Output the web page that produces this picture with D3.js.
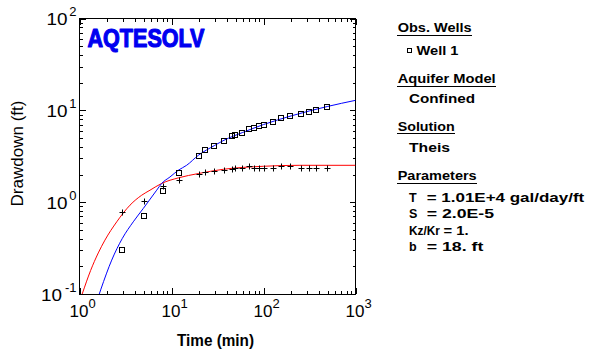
<!DOCTYPE html>
<html><head><meta charset="utf-8">
<script src="https://cdn.jsdelivr.net/npm/d3@7"></script>
<style>body{margin:0;background:#fff}svg{display:block}</style>
</head><body>
<svg id="c" width="589" height="350"></svg>
<script>
// ---- data ----
const obsTime = [2.9, 5, 8, 12, 20, 23.3, 29.2, 37.2, 45.8, 49.4, 58.8, 68.7, 78.8, 89.3, 100, 128, 156, 195, 258, 315, 375, 493];
const well1Drawdown = [0.30, 0.705, 1.31, 2.10, 3.20, 3.69, 4.13, 4.66, 5.19, 5.35, 5.72, 6.19, 6.41, 6.70, 6.99, 7.54, 8.33, 8.57, 9.23, 9.70, 10.2, 11.0];
const plusDrawdown = [0.79, 1.04, 1.49, 1.76, 2.04, 2.11, 2.20, 2.22, 2.32, 2.35, 2.34, 2.49, 2.34, 2.34, 2.38, 2.38, 2.49, 2.46, 2.38, 2.38, 2.38, 2.38];
const blueCurveTime = [1.64, 1.71, 2.24, 2.92, 3.84, 4.94, 6.9, 7.82, 9.62, 11.9, 14.6, 19.6, 29.2, 37.2, 58.8, 100, 200, 493, 1000];
const blueCurveDrawdown = [0.1, 0.113, 0.234, 0.403, 0.611, 0.855, 1.35, 1.6, 1.88, 2.23, 2.52, 3.24, 4.13, 4.72, 5.72, 7.0, 8.7, 11.0, 12.85];
const redCurveTime = [1.07, 1.32, 1.6, 1.89, 2.54, 3.54, 4.74, 5.84, 7.82, 11.9, 19.6, 36.6, 99.6, 249, 1000];
const redCurveDrawdown = [0.1, 0.18, 0.28, 0.386, 0.611, 0.928, 1.19, 1.35, 1.6, 1.84, 2.05, 2.28, 2.46, 2.52, 2.52];
const xDecades = [0, 1, 2, 3];
const yDecades = [-1, 0, 1, 2];
const legendRows = [
  {text: "Obs. Wells", x: 397.7, y: 32, w: 74, head: true},
  {text: "Well 1", x: 416.5, y: 55, w: 42, marker: true},
  {text: "Aquifer Model", x: 397.7, y: 83, w: 98, head: true},
  {text: "Confined", x: 409, y: 103, w: 66},
  {text: "Solution", x: 397.7, y: 130.5, w: 57, head: true},
  {text: "Theis", x: 409, y: 151.5, w: 41},
  {text: "Parameters", x: 397.7, y: 180, w: 79, head: true}
];
const paramNames = ["T", "S", "Kz/Kr", "b"];
const paramNameW = [0, 0, 31, 0];
const paramValues = ["= 1.01E+4 gal/day/ft", "= 2.0E-5", "= 1.", "= 18. ft"];
const paramValueX = [426.7, 426.7, 443.5, 426.7];
const paramValueW = [157.6, 67.3, 25, 56.7];
const paramY = [201.5, 218.3, 235, 251];

// ---- chart ----
const svg = d3.select("#c");
svg.append("rect").attr("width", 589).attr("height", 350).attr("fill", "#fff");
const L = 79.5, R = 355.5, T = 18.5, B = 294;
const x = d3.scaleLog().domain([1, 1000]).range([L, R]);
const y = d3.scaleLog().domain([0.1, 100]).range([B, T]);
const font = "'Liberation Sans', Arial, sans-serif";

svg.append("defs").append("clipPath").attr("id", "clip")
  .append("rect").attr("x", L).attr("y", T).attr("width", R - L).attr("height", B - T);

// logo
svg.append("text").attr("x", 87.5).attr("y", 47).attr("font-family", font)
  .attr("font-weight", "bold").attr("font-size", 26).attr("fill", "#0000f0")
  .attr("stroke", "#0000f0").attr("stroke-width", 1.2).attr("stroke-linejoin", "round")
  .attr("textLength", 117).attr("lengthAdjust", "spacingAndGlyphs").text("AQTESOLV");

// ticks
const xTicks = [], yTicks = [];
for (let e = 0; e < 3; e++) for (let m = 1; m <= 9; m++) xTicks.push(m * Math.pow(10, e));
xTicks.push(1000);
for (let e = -1; e < 2; e++) for (let m = 1; m <= 9; m++) yTicks.push(m * Math.pow(10, e));
yTicks.push(100);
const isMajor = v => Math.abs(Math.log10(v) - Math.round(Math.log10(v))) < 1e-9;

function styleAxis(g, attr, sign) {
  g.select(".domain").remove();
  g.selectAll(".tick text").remove();
  g.selectAll(".tick line").attr(attr, d => sign * (isMajor(d) ? 6 : 3))
    .attr("stroke", "#000").attr("shape-rendering", "crispEdges");
}
svg.append("g").attr("transform", `translate(0,${B})`)
  .call(d3.axisBottom(x).tickValues(xTicks)).call(g => styleAxis(g, "y2", -1));
svg.append("g").attr("transform", `translate(0,${T})`)
  .call(d3.axisTop(x).tickValues(xTicks)).call(g => styleAxis(g, "y2", 1));
svg.append("g").attr("transform", `translate(${L},0)`)
  .call(d3.axisLeft(y).tickValues(yTicks)).call(g => styleAxis(g, "x2", 1));
svg.append("g").attr("transform", `translate(${R},0)`)
  .call(d3.axisRight(y).tickValues(yTicks)).call(g => styleAxis(g, "x2", -1));

svg.append("rect").attr("x", L).attr("y", T).attr("width", R - L).attr("height", B - T)
  .attr("fill", "none").attr("stroke", "#000").attr("shape-rendering", "crispEdges");

// tick labels
xDecades.forEach(e => {
  const t = svg.append("text").attr("font-family", font).attr("font-size", 17)
    .attr("x", x(Math.pow(10, e)) - 10).attr("y", 317);
  t.append("tspan").text("10");
  t.append("tspan").attr("font-size", 13).attr("dy", -9).text(String(e));
});
yDecades.forEach(e => {
  const expW = e < 0 ? 13 : 7.5;
  const yy = y(Math.pow(10, e)) + 6.5;
  svg.append("text").attr("font-family", font).attr("font-size", 17)
    .attr("text-anchor", "end").attr("x", 76 - expW - 1).attr("y", yy)
    .attr("textLength", 21).attr("lengthAdjust", "spacingAndGlyphs").text("10");
  svg.append("text").attr("font-family", font).attr("font-size", 13)
    .attr("text-anchor", "end").attr("x", 76.5).attr("y", yy - 9).text(String(e));
});

// axis titles
svg.append("text").attr("font-family", font).attr("font-size", 16).attr("font-weight", "bold")
  .attr("x", 215.5).attr("y", 346).attr("text-anchor", "middle")
  .attr("textLength", 77).attr("lengthAdjust", "spacingAndGlyphs").text("Time (min)");
svg.append("text").attr("font-family", font).attr("font-size", 17)
  .attr("transform", "translate(23,153.5) rotate(-90)").attr("text-anchor", "middle")
  .attr("textLength", 106).attr("lengthAdjust", "spacingAndGlyphs").text("Drawdown (ft)");

// curves
const line = d3.line().x(d => x(d[0])).y(d => y(d[1])).curve(d3.curveMonotoneX);
const plot = svg.append("g").attr("clip-path", "url(#clip)");
plot.append("path").datum(redCurveTime.map((t, i) => [t, redCurveDrawdown[i]]))
  .attr("d", line).attr("fill", "none").attr("stroke", "#ff0000").attr("stroke-width", 1);
plot.append("path").datum(blueCurveTime.map((t, i) => [t, blueCurveDrawdown[i]]))
  .attr("d", line).attr("fill", "none").attr("stroke", "#0000ff").attr("stroke-width", 1);

// markers
plot.selectAll(".sq").data(obsTime.map((t, i) => [t, well1Drawdown[i]])).join("rect")
  .attr("x", d => Math.round(x(d[0])) - 2.5).attr("y", d => Math.round(y(d[1])) - 2.5)
  .attr("width", 5).attr("height", 5).attr("fill", "none").attr("stroke", "#000");
plot.selectAll(".pl").data(obsTime.map((t, i) => [t, plusDrawdown[i]])).join("path")
  .attr("d", d => { const cx = Math.round(x(d[0])) + 0.5, cy = Math.round(y(d[1])) + 0.5;
    return `M${cx - 3},${cy}H${cx + 3}M${cx},${cy - 3}V${cy + 3}`; })
  .attr("stroke", "#000").attr("fill", "none");

// legend
legendRows.forEach(r => {
  svg.append("text").attr("font-family", font).attr("font-size", 12).attr("font-weight", "bold")
    .attr("x", r.x).attr("y", r.y).attr("textLength", r.w).attr("lengthAdjust", "spacingAndGlyphs").text(r.text);
  if (r.head) svg.append("line").attr("x1", r.x - 0.5).attr("x2", r.x + r.w + 0.5)
    .attr("y1", r.y + 3).attr("y2", r.y + 3).attr("stroke", "#000").attr("shape-rendering", "crispEdges");
  if (r.marker) svg.append("rect").attr("x", 407.5).attr("y", r.y - 6.5).attr("width", 4).attr("height", 4)
    .attr("fill", "none").attr("stroke", "#000");
});
paramNames.forEach((n, i) => {
  const t = svg.append("text").attr("font-family", font).attr("font-size", 12.5).attr("font-weight", "bold")
    .attr("x", 409).attr("y", paramY[i]).text(n);
  if (paramNameW[i]) t.attr("textLength", paramNameW[i]).attr("lengthAdjust", "spacingAndGlyphs");
  svg.append("text").attr("font-family", font).attr("font-size", 12).attr("font-weight", "bold")
    .attr("x", paramValueX[i]).attr("y", paramY[i]).attr("textLength", paramValueW[i]).attr("lengthAdjust", "spacingAndGlyphs").text(paramValues[i]);
});
</script>
</body></html>
